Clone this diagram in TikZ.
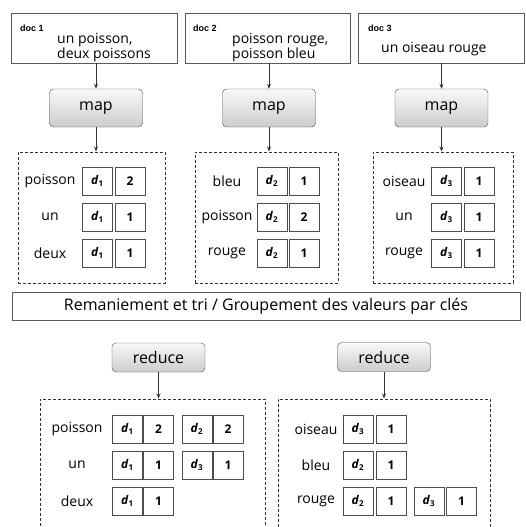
\documentclass[tikz,border=0pt]{standalone}
\usepackage{fontspec}
\setmainfont{Open Sans}
\newfontfamily\docfont{Liberation Sans}
\usetikzlibrary{arrows.meta, positioning}
\newcommand{\dk}[1]{\textbf{\textit{d}}\textsubscript{\textbf{#1}}}

\begin{document}
\begin{tikzpicture}[
            x=1pt, y=-1pt,
            % Stile per i documenti in ingresso
            docbox/.style={draw=gray!70!black, line width=0.8pt, minimum width=166pt, minimum height=50pt, inner sep=0pt},
            doclabel/.style={font=\docfont\bfseries\fontsize{9}{10}\selectfont, anchor=base west, inner sep=0pt},
            doctext/.style={font=\fontsize{14}{15}\selectfont, align=left, anchor=west, inner sep=0pt},
            % Stile per le fasi map / reduce
            phase/.style={draw=gray!60!black, rounded corners=4pt, top color=gray!5, bottom color=gray!40, minimum width=93pt, inner sep=0pt, font=\fontsize{16}{18}\selectfont},
            % Stile per i riquadri tratteggiati
            grpbox/.style={draw=gray!40!black, line width=1pt, dash pattern=on 3pt off 2pt, inner sep=0pt},
            cell/.style={draw=gray!60!black, line width=0.9pt, fill=white, minimum width=30pt, minimum height=28pt, inner sep=0pt, font=\bfseries\fontsize{12}{14}\selectfont},
            keytext/.style={font=\fontsize{14}{16}\selectfont, inner sep=0pt},
            % Stile per le frecce
            flow/.style={draw=black!80, line width=0.8pt, -{Stealth[length=5pt, width=4pt]}}
        ]
            \clip (0,0) rectangle (525,527);

            % --- Documenti ---
            \node[docbox] (doc1) at (94, 38) {};
            \node[docbox, minimum width=165pt] (doc2) at (267.5, 38) {};
            \node[docbox] (doc3) at (441, 38) {};
            \node[doclabel] (lab1) at (20, 32) {doc 1};
            \node[doclabel] (lab2) at (193, 32) {doc 2};
            \node[doclabel] (lab3) at (368, 32) {doc 3};
            \node[doctext] (txt1) at (57, 48) {un poisson,\\deux poissons};
            \node[doctext] (txt2) at (232, 48) {poisson rouge,\\poisson bleu};
            \node[doctext] (txt3) at (381, 49) {un oiseau rouge};

            % --- Fase map ---
            \node[phase, minimum height=38pt] (map1) at (96, 108) {map};
            \node[phase, minimum height=38pt] (map2) at (269, 108) {map};
            \node[phase, minimum height=38pt] (map3) at (441.5, 108) {map};
            \foreach \k in {1,2,3}
                \draw[flow] (map\k |- doc\k.south) -- (map\k.north);

            % --- Risultati intermedi ---
            \node[grpbox, minimum width=147pt, minimum height=131pt] (out1) at (91.5, 217.5) {};
            \node[grpbox, minimum width=143pt, minimum height=131pt] (out2) at (266.5, 217.5) {};
            \node[grpbox, minimum width=140pt, minimum height=131pt] (out3) at (443, 217.5) {};
            \foreach \k in {1,2,3}
                \draw[flow] (map\k.south) -- (map\k |- out\k.north);

            \foreach \w/\ix/\n [count=\i] in {poisson/1/2, un/1/1, deux/1/1} {
                \node[keytext] (ka\i) at (50, 145+36*\i) {\w};
                \node[cell] (da\i) at (97.5, 145+36*\i) {\dk{\ix}};
                \node[cell] (na\i) at (130, 145+36*\i) {\n};
            }
            \foreach \w/\ix/\n [count=\i] in {bleu/2/1, poisson/2/2, rouge/2/1} {
                \node[keytext] (kb\i) at (227, 145+36*\i) {\w};
                \node[cell] (db\i) at (272, 145+36*\i) {\dk{\ix}};
                \node[cell] (nb\i) at (304, 145+36*\i) {\n};
            }
            \foreach \w/\ix/\n [count=\i] in {oiseau/3/1, un/3/1, rouge/3/1} {
                \node[keytext] (kc\i) at (404, 145+36*\i) {\w};
                \node[cell] (dc\i) at (446.5, 145+36*\i) {\dk{\ix}};
                \node[cell] (nc\i) at (479, 145+36*\i) {\n};
            }

            % --- Remaniement ---
            \node[draw=gray!70!black, line width=0.8pt, minimum width=508pt, minimum height=28pt, inner sep=0pt,
                  font=\fontsize{16}{18}\selectfont] (shuffle) at (266, 306)
                {Remaniement et tri / Groupement des valeurs par clés};

            % --- Fase reduce ---
            \node[phase, minimum height=29pt] (red1) at (158.5, 357.5) {reduce};
            \node[phase, minimum height=29pt] (red2) at (384, 357) {reduce};

            \node[grpbox, minimum width=225pt, minimum height=146pt] (res1) at (152.5, 472) {};
            \node[grpbox, minimum width=212pt, minimum height=146pt] (res2) at (384, 472) {};
            \draw[flow] (red1.south) -- (red1 |- res1.north);
            \draw[flow] (red2.south) -- (red2 |- res2.north);

            \foreach \w/\ix/\n [count=\i] in {poisson/1/2, un/1/1, deux/1/1} {
                \node[keytext] (ra\i) at (77, 393+36*\i) {\w};
                \node[cell] (rda\i) at (127.5, 393+36*\i) {\dk{\ix}};
                \node[cell] (rna\i) at (158.5, 393+36*\i) {\n};
            }
            \node[cell] (rea1) at (197, 429) {\dk{2}};
            \node[cell] (rfa1) at (228, 429) {2};
            \node[cell] (rea2) at (197, 465) {\dk{3}};
            \node[cell] (rfa2) at (228, 465) {1};

            \foreach \w/\ix/\n [count=\i] in {oiseau/3/1, bleu/2/1, rouge/2/1} {
                \node[keytext] (rb\i) at (316, 393+36*\i) {\w};
                \node[cell] (rdb\i) at (358, 393+36*\i) {\dk{\ix}};
                \node[cell] (rnb\i) at (391, 393+36*\i) {\n};
            }
            \node[cell] (reb3) at (429, 501) {\dk{3}};
            \node[cell] (rfb3) at (461.5, 501) {1};

        \end{tikzpicture}
\end{document}
